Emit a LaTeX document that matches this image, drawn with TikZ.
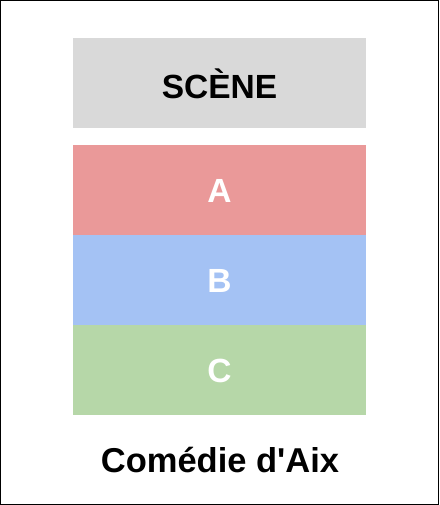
\documentclass[tikz,border=0pt]{standalone}
\usepackage{fontspec}
\defaultfontfeatures{Ligatures=TeXOff}
\setmainfont{Liberation Sans}[Ligatures=TeXOff]
\definecolor{scenegray}{HTML}{D9D9D9}
\definecolor{zonea}{HTML}{EA9999}
\definecolor{zoneb}{HTML}{A4C2F4}
\definecolor{zonec}{HTML}{B6D7A8}
\begin{document}
\begin{tikzpicture}[x=1pt,y=-1pt,
  zone/.style={fill=#1, draw=none},
  lbl/.style={font=\fontsize{33.5}{40}\selectfont\bfseries, inner sep=0pt}]
\useasboundingbox (0,0) rectangle (439,505);
\draw[line width=1.2pt] (0.6,0.6) rectangle (438.4,504.4);
\fill[zone=scenegray] (73,38) rectangle (366,128);
\node[lbl, text=black] (scene) at (219.5,84) {SCÈNE};
\fill[zone=zonea] (73,145) rectangle (366,235);
\node[lbl, text=white] (a) at (219.5,191) {A};
\fill[zone=zoneb] (73,235) rectangle (366,325);
\node[lbl, text=white] (b) at (219.5,281) {B};
\fill[zone=zonec] (73,325) rectangle (366,415);
\node[lbl, text=white] (c) at (219.5,371) {C};
\node[lbl, text=black, font=\fontsize{34.5}{40}\selectfont\bfseries] (title) at (220,460) {Comédie d'Aix};
\end{tikzpicture}
\end{document}
